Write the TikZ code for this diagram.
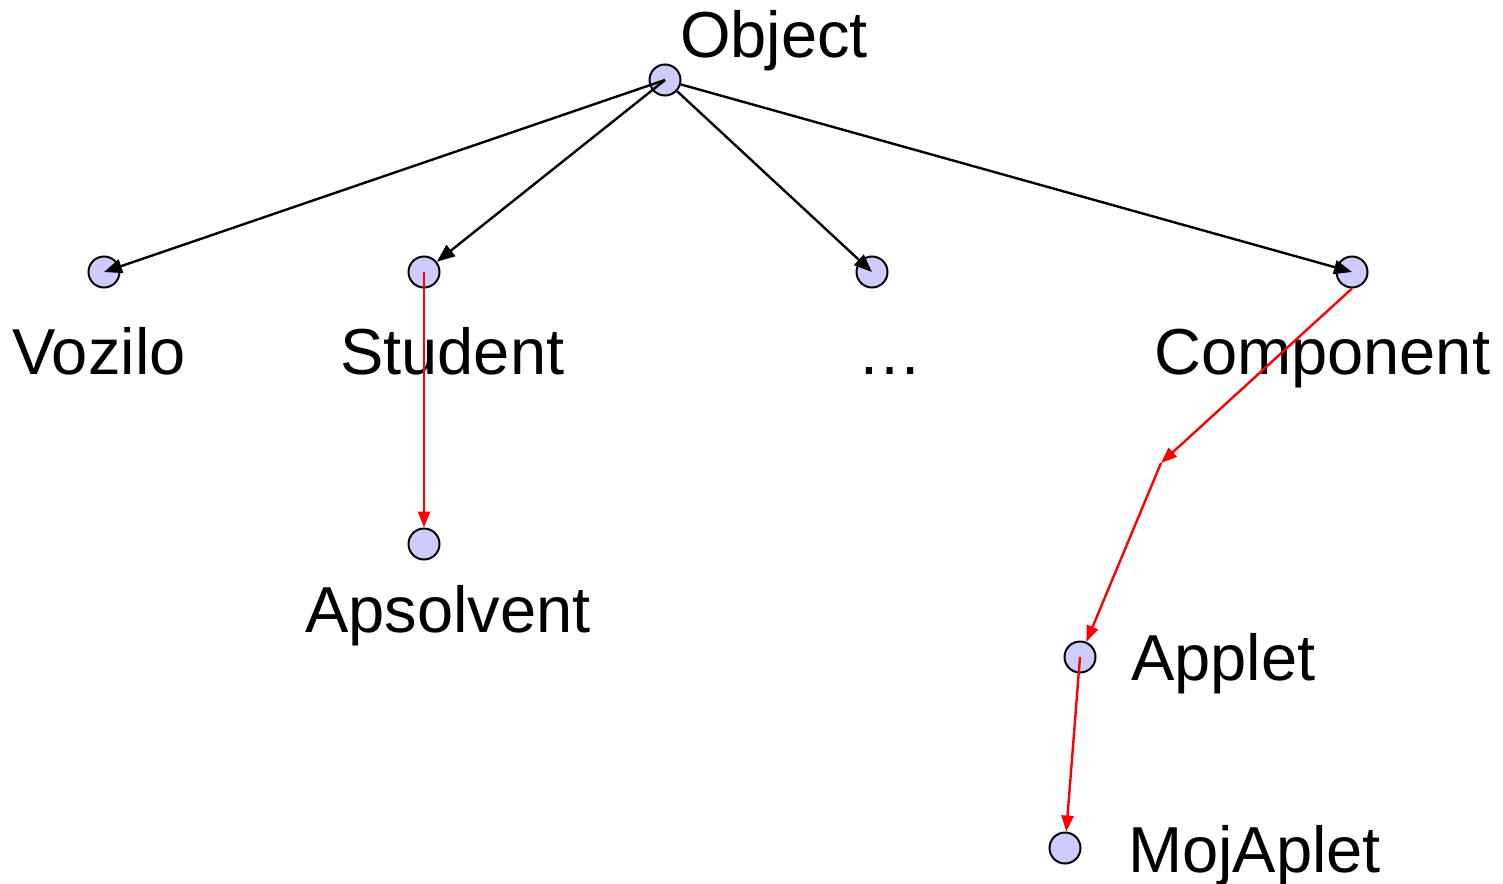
\documentclass[tikz,border=0pt]{standalone}
\usepackage{fontspec}
\setmainfont{Liberation Sans}
\usetikzlibrary{arrows.meta}
\definecolor{dotfill}{HTML}{CCCCFF}
\tikzset{
  dot/.style={circle, draw=black, fill=dotfill, line width=2pt, minimum size=31pt, inner sep=0pt},
  lbl/.style={anchor=base west, inner sep=0pt, font=\fontsize{65}{78}\selectfont},
  blk/.style={draw=black, line width=2.4pt, -{Triangle[length=18pt,width=14pt]}},
  redarr/.style={draw=red, line width=2.4pt, -{Triangle[length=16pt,width=12pt]}}
}
\begin{document}
\begin{tikzpicture}[x=1pt,y=-1pt]
\useasboundingbox (0,0) rectangle (1503,883);
% circles
\node[dot] (obj) at (665,80) {};
\node[dot] (voz) at (104,272) {};
\node[dot] (stud) at (424,272) {};
\node[dot] (dots) at (872,272) {};
\node[dot] (comp) at (1352,272) {};
\node[dot] (aps) at (424,544) {};
\node[dot] (app) at (1080,657) {};
\node[dot] (moj) at (1065,848) {};
\coordinate (mid) at (1161,463);
% labels
\node[lbl] (tobj) at (680,57) {Object};
\node[lbl] (tvoz) at (12,374) {Vozilo};
\node[lbl] (tstud) at (340,374) {Student};
\node[lbl] (tdots) at (857,374) {…};
\node[lbl] (tcomp) at (1154,374) {Component};
\node[lbl] (taps) at (305,632) {Apsolvent};
\node[lbl] (tapp) at (1131,680) {Applet};
\node[lbl] (tmoj) at (1128,872) {MojAplet};
% black connectors
\draw[blk] (obj.center) -- (voz.center);
\draw[blk] (obj.center) -- (stud);
\draw[blk] (obj) -- (dots.center);
\draw[blk] (obj) -- (comp.center);
% red connectors
\draw[redarr] (stud.center) -- (aps);
\draw[redarr] (comp.south) -- (mid);
\draw[redarr] (mid) -- (app);
\draw[redarr] (app.center) -- (moj);
\end{tikzpicture}
\end{document}
